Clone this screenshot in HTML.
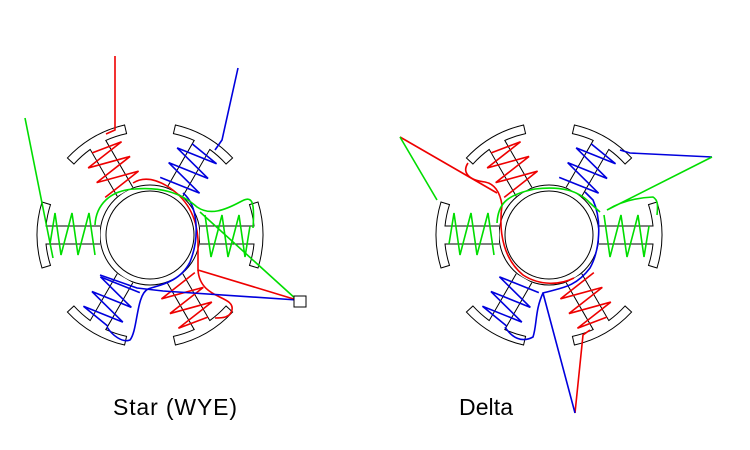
<!DOCTYPE html>
<html><head><meta charset="utf-8"><style>
html,body{margin:0;padding:0;background:#fff;width:750px;height:450px;overflow:hidden}
svg{display:block}
text{font-family:"Liberation Sans","Noto Sans CJK JP",sans-serif;font-size:23px;fill:#000}
</style></head><body>
<svg width="750" height="450" viewBox="0 0 750 450" xmlns="http://www.w3.org/2000/svg">
<defs>
<path id="pole" fill="#fff" stroke="#000" stroke-width="1" d="M50,-9 L104,-9 A104,104 0 0 0 99.5,-30.4 L108,-33 A113,113 0 0 1 108,33 L99.5,30.4 A104,104 0 0 0 104,9 L50,9"/>
<polyline id="coil" fill="none" stroke-width="1.6" points="55,-20 61,22 72,-20 78,22 89,-20 95,22 100,-9"/>
<g id="motor">
<circle r="50" fill="#fff" stroke="#000"/>
<use href="#pole" transform="rotate(0)"/>
<use href="#pole" transform="rotate(60)"/>
<use href="#pole" transform="rotate(120)"/>
<use href="#pole" transform="rotate(180)"/>
<use href="#pole" transform="rotate(240)"/>
<use href="#pole" transform="rotate(300)"/>
<circle r="44" fill="#fff" stroke="#000"/>
<use href="#coil" stroke="#0d0" transform="rotate(0)"/>
<use href="#coil" stroke="#e00" transform="rotate(60)"/>
<use href="#coil" stroke="#00d" transform="rotate(120)"/>
<use href="#coil" stroke="#0d0" transform="rotate(180)"/>
<use href="#coil" stroke="#e00" transform="rotate(240)"/>
<use href="#coil" stroke="#00d" transform="rotate(300)"/>
</g>
</defs>

<use href="#motor" transform="translate(150,235)"/>
<use href="#motor" transform="translate(549,235)"/>

<g fill="none" stroke-width="1.6">
<path stroke="#e00" d="M115,56 L115,130 L106,134"/>
<path stroke="#e00" d="M133,183 Q147,174 167,186 Q196,204 198,240 L198,270 L297,300"/>
<path stroke="#e00" d="M198,270 C200,300 235,295 232,310 C230,318 222,318 215,318"/>
<path stroke="#00d" d="M238,68 L222,140 L215,150"/>
<path stroke="#00d" d="M183,193 C198,205 200,237 190,262 C180,282 160,285 148,289 C136,295 138,330 130,340 C122,343 112,335 107,327"/>
<path stroke="#00d" d="M100,275 L137,288 L163,291 L297,300"/>
<path stroke="#0d0" d="M25,118 L53,258"/>
<path stroke="#0d0" d="M95,225 C96,205 110,190 135,189 C160,187 180,192 197,207 C210,216 225,210 240,202 C252,195 255,200 253,228"/>
<path stroke="#0d0" d="M200,212 L297,300"/>
<rect x="294" y="296" width="12" height="11" fill="#fff" stroke="#000" stroke-width="1"/>

<path stroke="#e00" d="M400,137 L497,193"/>
<path stroke="#e00" d="M468,163 C462,172 468,180 485,182 C495,184 500,192 502,205 C498,235 505,260 523,275 C540,286 560,285 574,278"/>
<path stroke="#e00" d="M575,413 L583,335 L590,330"/>
<path stroke="#00d" d="M575,413 L543,293 C560,288 575,288 590,268 C600,250 602,220 593,200 L585,192"/>
<path stroke="#00d" d="M505,327 C512,338 522,343 533,337 C537,325 535,310 543,293"/>
<path stroke="#00d" d="M620,150 L630,153 L712,157"/>
<path stroke="#0d0" d="M400,137 L437,200"/>
<path stroke="#0d0" d="M712,157 L607,210 C615,205 630,198 653,197 C658,200 658,205 657,215"/>
<path stroke="#0d0" d="M497,223 C498,205 505,195 535,189 C560,186 578,190 590,203 L600,212"/>
</g>

<text x="113" y="415" textLength="124">Star (WYE)</text>
<text x="459" y="415" textLength="54">Delta</text>
</svg>
</body></html>
